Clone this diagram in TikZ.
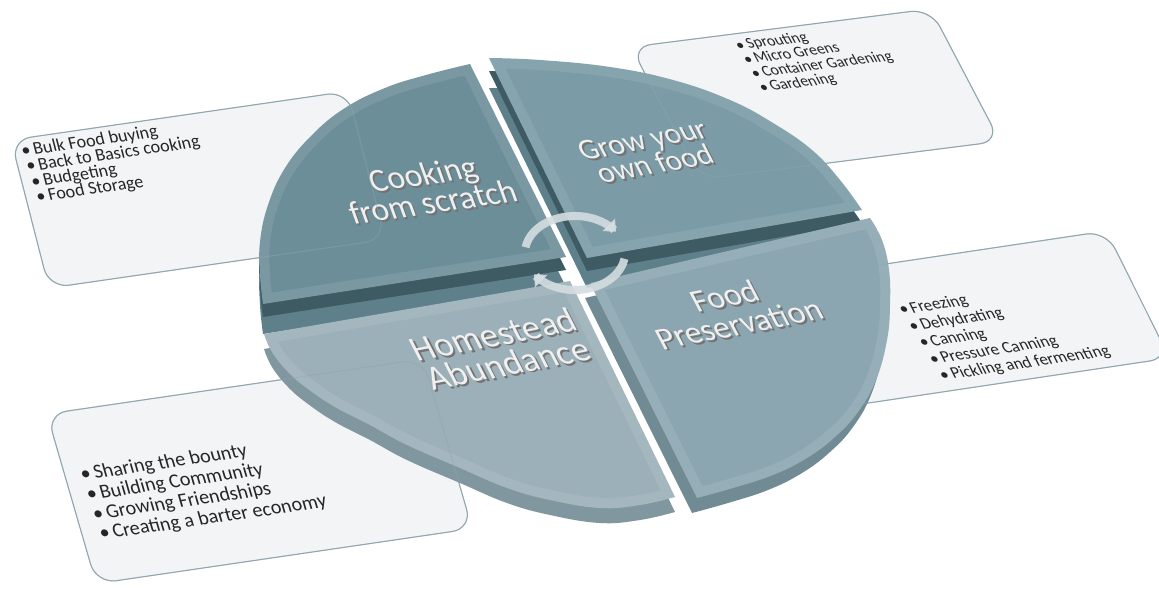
\documentclass[tikz,border=0pt]{standalone}
\usepackage{fontspec}
\setmainfont{Carlito}
\usetikzlibrary{arrows.meta}
\setlength{\lineskiplimit}{-50pt}

\definecolor{notefill}{HTML}{F3F4F5}
\definecolor{noteline}{HTML}{8FA6AE}
\definecolor{cookface}{HTML}{6C8E99}
\definecolor{growface}{HTML}{7B9CA7}
\definecolor{foodface}{HTML}{8BA6B0}
\definecolor{homeface}{HTML}{9BB0B8}
\definecolor{sidedark}{HTML}{3E5A62}
\definecolor{sidelight}{HTML}{5E808A}
\definecolor{foodside}{HTML}{718B94}
\definecolor{homeside}{HTML}{80979F}
\definecolor{cyc}{HTML}{D4DDE0}
\definecolor{lbltext}{HTML}{F0F0F0}

\newcommand{\itm}[1]{\textbullet\hspace{0.16em}#1}
\newcommand{\emb}[1]{\rlap{\kern1.2pt\raisebox{-2.2pt}{\textcolor{black!55}{#1}}}#1}
\newcommand{\cookpath}{(566,257) -- plot[smooth, tension=0.7] coordinates {(470,64) (426,75) (385,88) (345,108) (312,135) (285,168) (268,205) (260,242) (260,275) (263,304)} -- cycle}
\newcommand{\growpath}{(587,258) -- plot[smooth, tension=0.7] coordinates {(489,58) (540,60) (610,67) (673,80) (730,100) (773,123) (812,150) (840,180) (862,210)} -- cycle}
\newcommand{\foodpath}{(590,283) -- plot[smooth, tension=0.7] coordinates {(870,218) (882,240) (889,270) (890,305) (887,340) (876,380) (858,412) (835,437) (807,458) (773,475) (733,488) (697,498)} -- cycle}
\newcommand{\homepath}{(570,281) -- plot[smooth, tension=0.7] coordinates {(675,497) (640,505) (600,508) (550,500) (507,488) (460,468) (407,445) (370,425) (335,407) (308,389) (288,372) (272,352) (264,334)} -- cycle}
\newcommand{\bevel}[1]{\begin{scope}\clip #1; \draw[draw=white, draw opacity=0.09, line width=20pt] #1; \end{scope}}

\tikzset{
  cookbox/.style={shift={(11,140)}, rotate=8.23, xslant=-0.108},
  growbox/.style={shift={(631,47)}, rotate=7.24, xslant=-0.373},
  foodbox/.style={shift={(765,282)}, rotate=8.5, xslant=-0.326},
  homebox/.style={shift={(47,414)}, rotate=8.33, xslant=-0.138},
  note/.style={fill=notefill, draw=noteline, line width=1pt, rounded corners=20pt},
  noteagain/.style={draw=noteline, draw opacity=0.45, line width=1pt, rounded corners=20pt},
  items/.style 2 args={anchor=north west, inner sep=0pt, align=left, text=black!85,
    font=\fontsize{#1}{#2}\selectfont},
  lbl/.style 2 args={align=center, inner sep=0pt, text=lbltext,
    font=\fontsize{#1}{#2}\selectfont},
  cycarrow/.style={draw=cyc, line width=8pt, draw opacity=0.9, -{Triangle[width=17pt,length=10pt]}}
}

\begin{document}
\begin{tikzpicture}[x=1pt, y=-1pt]
\useasboundingbox (0,0) rectangle (1159,594);

\begin{scope}[cookbox, transform shape]
\filldraw[note] (0,0) rectangle (340,152);
\node[items={18}{15.9}] (cooklist) at (7.4,3.3)
  {\rule{0pt}{14.4pt}\itm{Bulk Food buying}\\ \hspace{1pt}\itm{Back to Basics cooking}\\
   \hspace{2pt}\itm{Budgeting}\\ \hspace{3pt}\itm{Food Storage}};
\end{scope}

\begin{scope}[growbox, transform shape]
\filldraw[note] (0,0) rectangle (302,140);
\node[items={15.5}{14.9}] (growlist) at (100,4)
  {\rule{0pt}{12.4pt}\itm{Sprouting}\\ \hspace{0.5pt}\itm{Micro Greens}\\
   \hspace{1pt}\itm{Container Gardening}\\ \hspace{1.5pt}\itm{Gardening}};
\end{scope}

\begin{scope}[foodbox, transform shape]
\filldraw[note] (0,0) rectangle (345,135);
\node[items={16.7}{17.8}] (foodlist) at (113.4,39)
  {\rule{0pt}{13.4pt}\itm{Freezing}\\ \hspace{1.8pt}\itm{Dehydrating}\\ \hspace{3.6pt}\itm{Canning}\\
   \hspace{5.4pt}\itm{Pressure Canning}\\ \hspace{7.2pt}\itm{Pickling and fermenting}};
\end{scope}

\begin{scope}[homebox, transform shape]
\filldraw[note] (0,0) rectangle (380,175);
\node[items={20}{20.4}] (homelist) at (15.2,55)
  {\rule{0pt}{16pt}\itm{Sharing the bounty}\\ \hspace{0.6pt}\itm{Building Community}\\
   \hspace{1.2pt}\itm{Growing Friendships}\\ \hspace{1.8pt}\itm{Creating a barter economy}};
\end{scope}

\fill[sidelight, shift={(0,30)}] \cookpath;
\fill[sidedark, shift={(0,13)}] \cookpath;
\fill[cookface] \cookpath;
\bevel{\cookpath}
\fill[sidelight, shift={(0,30)}] \growpath;
\fill[sidedark, shift={(0,13)}] \growpath;
\fill[growface] \growpath;
\bevel{\growpath}
\fill[homeside, shift={(0,15)}] \homepath;
\fill[homeface] \homepath;
\bevel{\homepath}
\fill[foodside, shift={(-5,15)}] \foodpath;
\fill[foodface] \foodpath;
\bevel{\foodpath}

\node[lbl={33}{29}, rotate=8, xslant=-0.21] (cook) at (428,189) {\emb{Cooking}\\\emb{from scratch}};
\node[lbl={30}{26}, rotate=10.5, xslant=-0.3] (grow) at (649,153) {\emb{Grow your}\\\emb{own food}};
\node[lbl={32.5}{30}, rotate=11, xslant=-0.3] (food) at (732,311) {\emb{Food}\\\emb{Preservation}};
\node[lbl={35.5}{31}, rotate=11, xslant=-0.29] (home) at (501,350) {\emb{Homestead}\\\emb{Abundance}};

\draw[cookbox, noteagain] (0,0) rectangle (340,152);
\draw[growbox, noteagain] (0,0) rectangle (302,140);
\draw[foodbox, noteagain] (0,0) rectangle (345,135);
\draw[homebox, noteagain] (0,0) rectangle (380,175);

\draw[cycarrow] plot[domain=189:325, samples=40] ({575+50*cos(\x)}, {253+37*sin(\x)});
\draw[cycarrow] plot[domain=9:145, samples=40] ({575+50*cos(\x)}, {253+37*sin(\x)});
\end{tikzpicture}
\end{document}
